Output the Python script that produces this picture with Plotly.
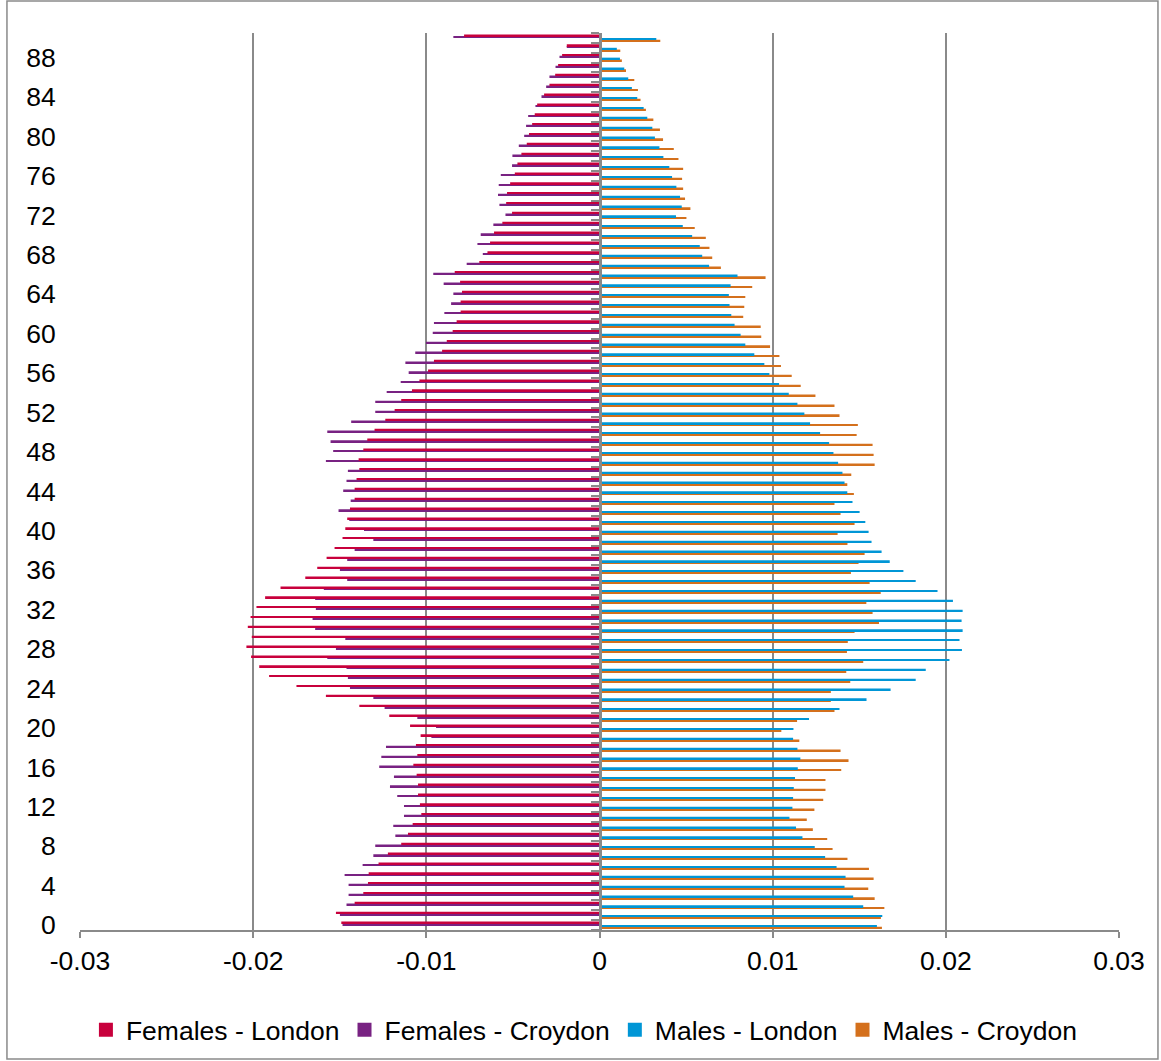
import plotly.graph_objects as go

# Single-year ages shown on the vertical axis
ages = list(range(0, 91))

# Share of population at each age (females plotted as negative values)
females_london = [
    -0.01491, -0.01522, -0.01414, -0.01364, -0.01337, -0.01333, -0.01276, -0.01222, -0.01145, -0.01106,
    -0.01079, -0.01029, -0.01037, -0.01048, -0.01048, -0.01056, -0.01075, -0.01052, -0.01060, -0.01033,
    -0.01094, -0.01214, -0.01387, -0.01580, -0.01750, -0.01908, -0.01965, -0.02012, -0.02039, -0.02008,
    -0.02031, -0.02015, -0.01981, -0.01931, -0.01842, -0.01699, -0.01630, -0.01576, -0.01530, -0.01484,
    -0.01468, -0.01457, -0.01441, -0.01414, -0.01414, -0.01403, -0.01387, -0.01391, -0.01364, -0.01341,
    -0.01299, -0.01237, -0.01183, -0.01145, -0.01083, -0.01040, -0.00990, -0.00956, -0.00909, -0.00882,
    -0.00848, -0.00825, -0.00802, -0.00802, -0.00794, -0.00805, -0.00836, -0.00694, -0.00647, -0.00632,
    -0.00609, -0.00561, -0.00505, -0.00539, -0.00534, -0.00516, -0.00489, -0.00474, -0.00451, -0.00420,
    -0.00407, -0.00389, -0.00374, -0.00360, -0.00320, -0.00289, -0.00256, -0.00239, -0.00216, -0.00189,
    -0.00782,
]

females_croydon = [
    -0.01484, -0.01499, -0.01461, -0.01449, -0.01449, -0.01472, -0.01368, -0.01306, -0.01295, -0.01179,
    -0.01191, -0.01129, -0.01129, -0.01168, -0.01210, -0.01187, -0.01272, -0.01260, -0.01233, -0.00971,
    -0.00944, -0.01052, -0.01241, -0.01306, -0.01441, -0.01453, -0.01461, -0.01572, -0.01522, -0.01468,
    -0.01642, -0.01657, -0.01638, -0.01642, -0.01592, -0.01457, -0.01499, -0.01457, -0.01414, -0.01306,
    -0.01360, -0.01445, -0.01507, -0.01437, -0.01480, -0.01461, -0.01453, -0.01580, -0.01538, -0.01553,
    -0.01572, -0.01434, -0.01295, -0.01295, -0.01229, -0.01148, -0.01102, -0.01121, -0.01064, -0.01002,
    -0.00963, -0.00956, -0.00896, -0.00857, -0.00844, -0.00900, -0.00960, -0.00767, -0.00674, -0.00705,
    -0.00686, -0.00613, -0.00543, -0.00578, -0.00586, -0.00582, -0.00570, -0.00505, -0.00503, -0.00466,
    -0.00435, -0.00424, -0.00412, -0.00370, -0.00335, -0.00308, -0.00289, -0.00254, -0.00231, -0.00189,
    -0.00844,
]

males_london = [
    0.01602, 0.01633, 0.01523, 0.01465, 0.01415, 0.01421, 0.01369, 0.01303, 0.01243, 0.01172,
    0.01135, 0.01097, 0.01114, 0.01118, 0.01122, 0.01129, 0.01145, 0.01160, 0.01143, 0.01118,
    0.01120, 0.01210, 0.01386, 0.01542, 0.01681, 0.01826, 0.01884, 0.02021, 0.02093, 0.02079,
    0.02097, 0.02091, 0.02097, 0.02041, 0.01952, 0.01826, 0.01755, 0.01676, 0.01629, 0.01571,
    0.01554, 0.01535, 0.01502, 0.01461, 0.01431, 0.01415, 0.01403, 0.01378, 0.01351, 0.01326,
    0.01274, 0.01216, 0.01183, 0.01143, 0.01093, 0.01037, 0.00981, 0.00952, 0.00894, 0.00842,
    0.00815, 0.00780, 0.00761, 0.00751, 0.00747, 0.00757, 0.00797, 0.00633, 0.00593, 0.00579,
    0.00535, 0.00481, 0.00442, 0.00475, 0.00465, 0.00444, 0.00419, 0.00403, 0.00369, 0.00346,
    0.00320, 0.00305, 0.00276, 0.00255, 0.00218, 0.00187, 0.00166, 0.00143, 0.00118, 0.00100,
    0.00328,
]

males_croydon = [
    0.01631, 0.01625, 0.01645, 0.01589, 0.01552, 0.01583, 0.01556, 0.01432, 0.01346, 0.01315,
    0.01232, 0.01197, 0.01241, 0.01292, 0.01305, 0.01305, 0.01396, 0.01438, 0.01392, 0.01154,
    0.01050, 0.01141, 0.01357, 0.01336, 0.01336, 0.01448, 0.01425, 0.01523, 0.01429, 0.01434,
    0.01473, 0.01614, 0.01577, 0.01541, 0.01624, 0.01560, 0.01452, 0.01496, 0.01531, 0.01432,
    0.01375, 0.01473, 0.01392, 0.01357, 0.01469, 0.01431, 0.01454, 0.01589, 0.01583, 0.01577,
    0.01485, 0.01492, 0.01386, 0.01357, 0.01247, 0.01162, 0.01110, 0.01048, 0.01039, 0.00985,
    0.00934, 0.00931, 0.00830, 0.00836, 0.00842, 0.00882, 0.00959, 0.00701, 0.00651, 0.00635,
    0.00614, 0.00550, 0.00502, 0.00525, 0.00494, 0.00483, 0.00477, 0.00483, 0.00456, 0.00429,
    0.00367, 0.00349, 0.00311, 0.00268, 0.00237, 0.00222, 0.00201, 0.00153, 0.00129, 0.00120,
    0.00351,
]

x_ticks = [-0.03, -0.02, -0.01, 0, 0.01, 0.02, 0.03]
x_tick_labels = ["-0.03", "-0.02", "-0.01", "0", "0.01", "0.02", "0.03"]
y_ticks = list(range(0, 89, 4))

FONT = "Liberation Sans, Arial, sans-serif"
GRID = "#8a8a8a"

COLORS = {
    "Females - London": "#C8003C",
    "Females - Croydon": "#782282",
    "Males - London": "#0096D6",
    "Males - Croydon": "#D4701C",
}

# Grouped bars stack upward from the first trace, so the male series come first
series = [
    ("Males - Croydon", males_croydon),
    ("Males - London", males_london),
    ("Females - Croydon", females_croydon),
    ("Females - London", females_london),
]

fig = go.Figure()
for name, values in series:
    fig.add_trace(go.Bar(
        x=values, y=ages, name=name, orientation="h", showlegend=False,
        marker=dict(color=COLORS[name], line=dict(width=0)),
    ))

# Legend entries with larger square keys
for name in ["Females - London", "Females - Croydon", "Males - London", "Males - Croydon"]:
    fig.add_trace(go.Scatter(
        x=[None], y=[None], name=name, mode="markers", hoverinfo="skip",
        marker=dict(symbol="square", size=14, color=COLORS[name]),
    ))

# Invisible trace that carries the central category axis
fig.add_trace(go.Scatter(x=[None], y=[None], yaxis="y2", showlegend=False,
                         hoverinfo="skip", mode="markers"))

fig.update_layout(
    width=1161, height=1061,
    margin=dict(l=80, r=42, t=33, b=131, autoexpand=False),
    paper_bgcolor="white", plot_bgcolor="white",
    font=dict(family=FONT, size=26, color="#000000"),
    barmode="group", bargap=0.28, bargroupgap=0,
    xaxis=dict(
        range=[-0.03, 0.03], tickvals=x_ticks, ticktext=x_tick_labels,
        showgrid=True, gridcolor=GRID, gridwidth=2,
        zeroline=False, showline=True, linecolor=GRID, linewidth=2,
        ticks="outside", ticklen=6, tickwidth=2, tickcolor=GRID,
        tickfont=dict(size=26.5), fixedrange=True,
    ),
    yaxis=dict(
        range=[-0.5, 90.5], tickvals=y_ticks, ticktext=[str(v) for v in y_ticks],
        showgrid=False, zeroline=False, showline=False,
        ticks="outside", ticklen=18, tickcolor="rgba(0,0,0,0)",
        tickfont=dict(size=26.5),
    ),
    yaxis2=dict(
        overlaying="y", anchor="free", position=0.5, side="left",
        range=[-0.5, 90.5], tickvals=[a - 0.5 for a in range(0, 92)],
        showticklabels=False, showgrid=False, zeroline=False,
        showline=True, linecolor=GRID, linewidth=2.5,
        ticks="outside", ticklen=8, tickwidth=2, tickcolor=GRID,
    ),
    legend=dict(
        orientation="h", traceorder="normal",
        x=0.485, xanchor="center", y=-0.1115, yanchor="middle",
        font=dict(size=26.5), itemwidth=30,
    ),
    showlegend=True,
)

# Outer chart frame
fig.add_shape(type="rect", xref="paper", yref="paper",
              x0=-0.0703, x1=1.0375, y0=-0.1438, y1=1.0357,
              line=dict(color=GRID, width=1.5), layer="below")

fig.write_html("out.html")
